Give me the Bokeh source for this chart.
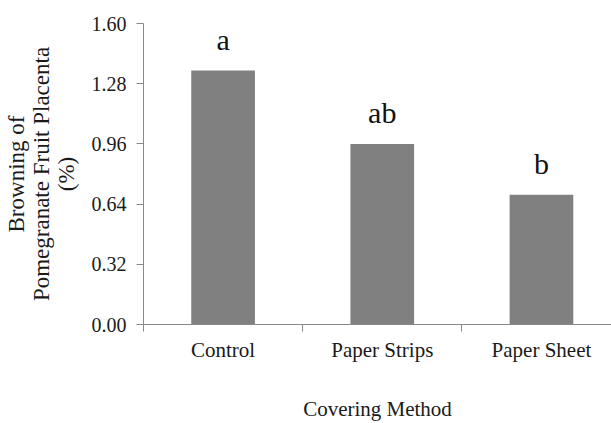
from bokeh.plotting import figure
from bokeh.models import ColumnDataSource, Range1d, FixedTicker, PrintfTickFormatter
from bokeh.core.properties import value
from bokeh.embed import file_html
from bokeh.resources import INLINE

categories = ["Control", "Paper Strips", "Paper Sheet"]
browning = [1.35, 0.96, 0.69]
letters = ["a", "ab", "b"]
y_ticks = [0.0, 0.32, 0.64, 0.96, 1.28, 1.60]

xs = [i + 0.5 for i in range(len(categories))]
src = ColumnDataSource(dict(x=xs, top=browning, cat=categories, letter=letters))

FONT = "Liberation Serif"
AX = "#898989"
TXT = "#1a1a1a"

p = figure(width=611, height=423, output_backend="svg", toolbar_location=None,
           x_range=Range1d(0, 2.94), y_range=Range1d(0, 1.6),
           min_border_left=142, min_border_right=0, min_border_top=23, min_border_bottom=99)
p.outline_line_color = None
p.grid.visible = False
p.background_fill_color = "white"
p.border_fill_color = "white"

p.vbar(x="x", top="top", bottom=0, width=0.4, source=src, fill_color="#808080", line_color=None)
p.text(x="x", y="top", text="letter", source=src, text_align="center",
       text_baseline="alphabetic", y_offset=-31, text_font=value(FONT),
       text_font_size="30px", text_color="#111111")

# y axis
ya = p.yaxis[0]
ya.ticker = FixedTicker(ticks=y_ticks)
ya.formatter = PrintfTickFormatter(format="%.2f")
ya.major_tick_out = 7
ya.major_tick_in = 0
ya.minor_tick_out = 0
ya.minor_tick_in = 0
ya.axis_line_color = AX
ya.major_tick_line_color = AX
ya.major_label_text_font = FONT
ya.major_label_text_font_size = "20px"
ya.major_label_text_color = TXT
ya.major_label_standoff = 10
ya.axis_label = "Browning of\nPomegranate Fruit Placenta\n(%)"
ya.axis_label_text_font = FONT
ya.axis_label_text_font_size = "23px"
ya.axis_label_text_font_style = "normal"
ya.axis_label_text_line_height = 1.0
ya.axis_label_text_color = TXT
ya.axis_label_standoff = 10

# x axis
xa = p.xaxis[0]
xa.ticker = FixedTicker(ticks=xs, minor_ticks=[0, 1, 2, 3])
xa.major_label_overrides = {x: c for x, c in zip(xs, categories)}
xa.major_tick_out = 0
xa.major_tick_in = 0
xa.minor_tick_out = 7
xa.minor_tick_in = 0
xa.axis_line_color = AX
xa.minor_tick_line_color = AX
xa.major_label_text_font = FONT
xa.major_label_text_font_size = "21px"
xa.major_label_text_color = TXT
xa.major_label_standoff = 6
xa.axis_label = "Covering Method"
xa.axis_label_text_font = FONT
xa.axis_label_text_font_size = "21px"
xa.axis_label_text_font_style = "normal"
xa.axis_label_text_color = TXT
xa.axis_label_standoff = 32

open("out.html", "w").write(file_html(p, INLINE))
